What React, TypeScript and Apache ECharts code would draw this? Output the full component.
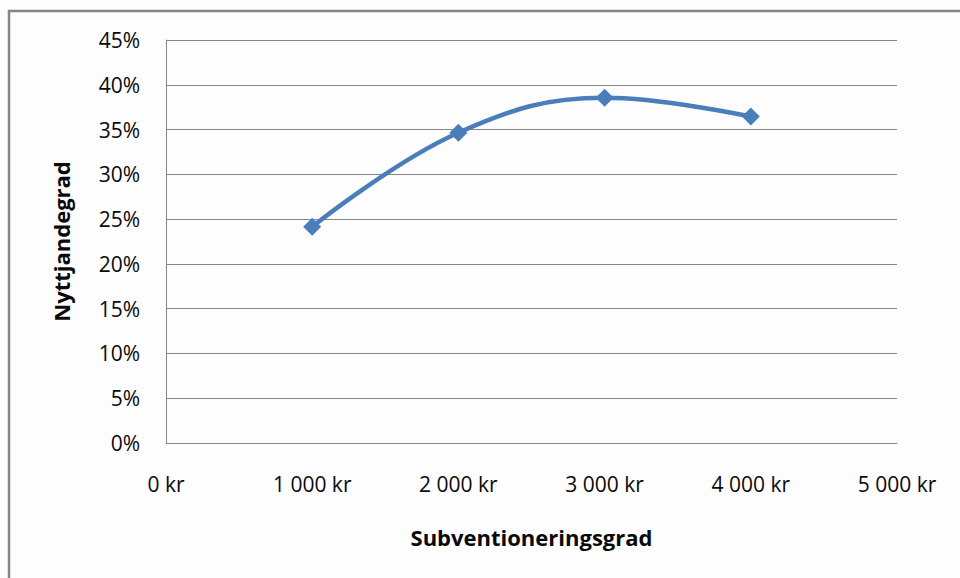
import React, { useEffect, useRef } from "react";
import * as echarts from "echarts";

const subsidies = [1000, 2000, 3000, 4000];
const usageRates = [0.2415, 0.3465, 0.3855, 0.3645];
const xTicks = { min: 0, max: 5000, interval: 1000 };
const yTicks = { min: 0, max: 0.45, interval: 0.05 };
const xTitle = "Subventioneringsgrad";
const yTitle = "Nyttjandegrad";

const FONT = "'Open Sans', sans-serif";

export default function App() {
  const ref = useRef<HTMLDivElement>(null);
  useEffect(() => {
    if (!ref.current) return;
    const chart = echarts.init(ref.current, null, { renderer: "svg" });
    chart.setOption({
      animation: false,
      backgroundColor: "#fdfdfd",
      textStyle: { fontFamily: FONT },
      graphic: [
        {
          type: "rect",
          shape: { x: 9, y: 11, width: 1000, height: 600 },
          style: { fill: "none", stroke: "#868686", lineWidth: 2.5 },
          silent: true,
        },
      ],
      grid: { left: 166, top: 40, right: 63, bottom: 135, containLabel: false },
      xAxis: {
        type: "value",
        min: xTicks.min,
        max: xTicks.max,
        interval: xTicks.interval,
        name: xTitle,
        nameLocation: "middle",
        nameGap: 83,
        nameTextStyle: { fontFamily: FONT, fontSize: 22, fontWeight: "bold", color: "#0a0a0a" },
        axisLine: { show: true, lineStyle: { color: "#868686", width: 1 } },
        axisTick: { show: false },
        splitLine: { show: false },
        axisLabel: {
          margin: 30,
          fontFamily: FONT,
          fontSize: 21,
          color: "#0a0a0a",
          formatter: (v: number) => (v === 0 ? "0 kr" : `${v / 1000} 000 kr`),
        },
      },
      yAxis: {
        type: "value",
        min: yTicks.min,
        max: yTicks.max,
        interval: yTicks.interval,
        name: yTitle,
        nameLocation: "middle",
        nameRotate: 90,
        nameGap: 94,
        nameTextStyle: { fontFamily: FONT, fontSize: 22, fontWeight: "bold", color: "#0a0a0a" },
        axisLine: { show: true, lineStyle: { color: "#868686", width: 1 } },
        axisTick: { show: false },
        splitLine: { show: true, lineStyle: { color: "#868686", width: 1 } },
        axisLabel: {
          margin: 26,
          fontFamily: FONT,
          fontSize: 21,
          color: "#0a0a0a",
          formatter: (v: number) => `${Math.round(v * 100)}%`,
        },
      },
      series: [
        {
          type: "line",
          data: subsidies.map((x, i) => [x, usageRates[i]]),
          smooth: 0.4,
          symbol: "diamond",
          symbolSize: 18,
          itemStyle: { color: "#4a7ebb" },
          lineStyle: { color: "#4a7ebb", width: 4.5 },
        },
      ],
    });
    return () => chart.dispose();
  }, []);
  return (
    <div
      ref={ref}
      style={{ position: "absolute", left: 0, top: 0, width: 960, height: 578 }}
    />
  );
}
